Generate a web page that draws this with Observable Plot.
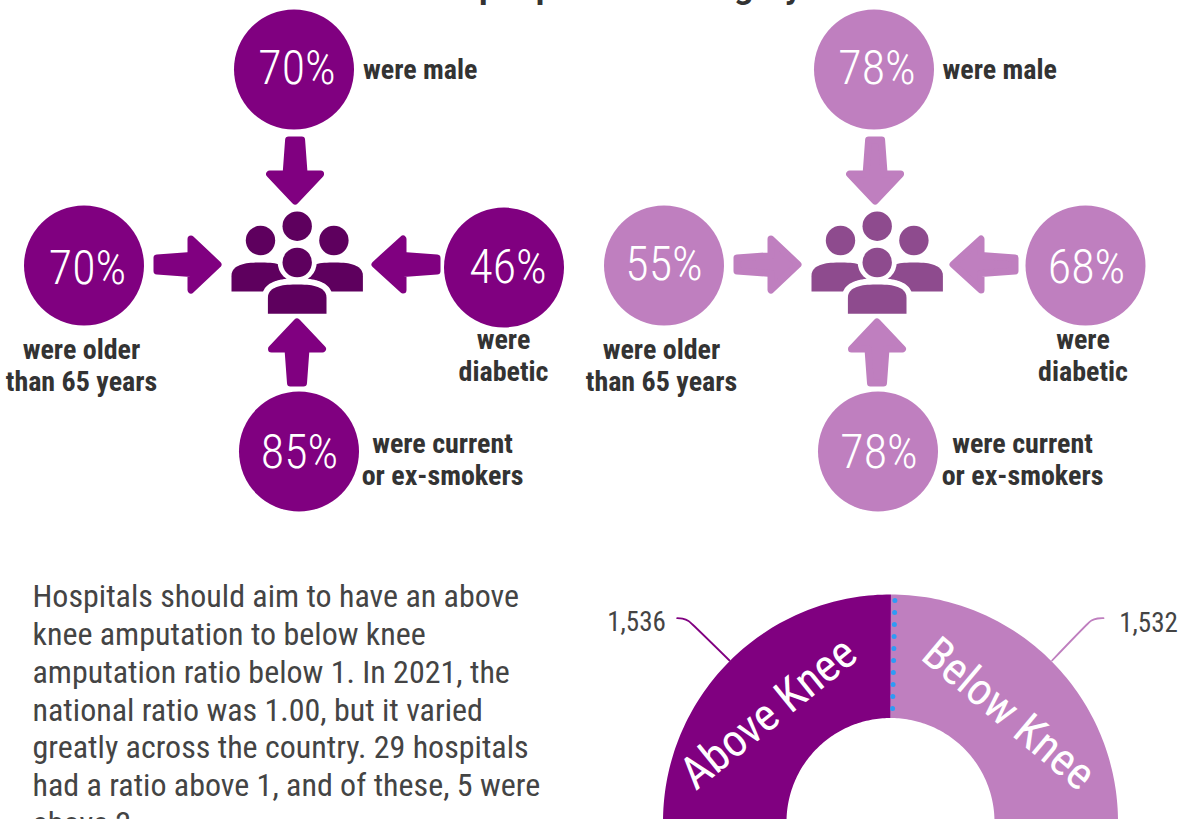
<!DOCTYPE html><html><head><meta charset="utf-8">
<script src="https://cdn.jsdelivr.net/npm/d3@7"></script>
<script src="https://cdn.jsdelivr.net/npm/@observablehq/plot@0.6"></script>
<style>html,body{margin:0;padding:0;background:#fff;overflow:hidden}svg{display:block}.clipped-title text{word-spacing:15px}</style></head><body><div id="c"></div>
<script>
// ---------- values ----------
const title = "These people had surgery";
const attributes = ["were male", "were older\nthan 65 years", "were\ndiabetic", "were current\nor ex-smokers"];
const percentAbove = [70, 70, 46, 85];
const percentBelow = [78, 55, 68, 78];
const sliceNames = ["Above Knee", "Below Knee"];
const sliceCounts = [1536, 1532];
const paragraph = "Hospitals should aim to have an above\nknee amputation to below knee\namputation ratio below 1. In 2021, the\nnational ratio was 1.00, but it varied\ngreatly across the country. 29 hospitals\nhad a ratio above 1, and of these, 5 were\nabove 2.";

// ---------- layout and palette (separate from the values) ----------
const dark = "#800080", light = "#bf7fbf", iconDark = "#5e005e", iconLight = "#8e4b8e", ink = "#333333", bodyInk = "#444444", dots = "#2e9bf5";
const groups = [
  {values: percentAbove, fill: dark, icon: iconDark,
   circles: [[293.5,69],[83.5,265],[503.5,267],[298.5,451]],
   pctX: [296.5,87,507.5,299], pctY: [68,268,267,452],
   labels: [[362.5,68,"start"],[81,364,"middle"],[503,354,"middle"],[442,458,"middle"]],
   arrows: [[294.6,136,294.6,205],[153,264,222,264],[440,264,370,264],[296.5,386,296.5,317]], icon0: 296.7},
  {values: percentBelow, fill: light, icon: iconLight,
   circles: [[873.5,69],[663.5,265],[1085,265],[877.5,451]],
   pctX: [876.5,663.5,1086,878.5], pctY: [68,264,267,452],
   labels: [[942,68,"start"],[661,364,"middle"],[1082.5,354,"middle"],[1022,458,"middle"]],
   arrows: [[874.6,136,874.6,205],[733,264,802,264],[1018,264,948,264],[876.5,386,876.5,317]], icon0: 876.7}
];
const donut = {cx: 890, cy: 821.5, outer: 227.5, inner: 104};

function arrowPoly([x0,y0,x1,y1], id) {
  const L = Math.hypot(x1-x0, y1-y0), ux = (x1-x0)/L, uy = (y1-y0)/L, vx = -uy, vy = ux;
  const shape = [[3.5,-6.5],[37.5,-9],[37.5,-25.5],[L-4.5,0],[37.5,25.5],[37.5,9],[3.5,6.5],[3.5,-6.5]];
  return shape.map(([s,t]) => ({id, x: x0+ux*s+vx*t, y: y0+uy*s+vy*t}));
}
function bodyPoly(cx, hw, top, shoulder, bottom, id) {
  const pts = [{id,x:cx-hw,y:bottom}];
  d3.range(0, 41).forEach(i => {
    const t = Math.PI - Math.PI*i/40, c = Math.cos(t), s = Math.sin(t);
    pts.push({id, x: cx + hw*Math.sign(c)*Math.pow(Math.abs(c),0.75), y: shoulder-(shoulder-top)*Math.pow(s,0.8)});
  });
  pts.push({id,x:cx+hw,y:bottom});
  return pts;
}
const pie = d3.pie().sort(null).startAngle(-Math.PI/2).endAngle(Math.PI/2)(sliceCounts);
function ringPoly(a) {
  const n = 80, out = [];
  d3.range(n+1).forEach(i => { const t = a.startAngle+(a.endAngle-a.startAngle)*i/n; out.push({x: donut.cx+donut.outer*Math.sin(t), y: donut.cy-donut.outer*Math.cos(t)}); });
  d3.range(n,-1,-1).forEach(i => { const t = a.startAngle+(a.endAngle-a.startAngle)*i/n; out.push({x: donut.cx+donut.inner*Math.sin(t), y: donut.cy-donut.inner*Math.cos(t)}); });
  return out;
}
const X = d => d.x, Y = d => d.y;
const marks = [];

// title, cut by the top edge of the page as in the reference
marks.push(Plot.text([title], {x: () => 581, y: () => -3, text: d => d, fontSize: 34, fontWeight: 700, fontFamily: "Roboto", fill: ink, lineAnchor: "bottom", textAnchor: "middle", className: "clipped-title"}));

groups.forEach(g => {
  const c = g.icon0;
  const pts = g.circles.map((p,i) => ({x:p[0], y:p[1], pct:g.values[i], px:g.pctX[i], py:g.pctY[i]}));
  marks.push(Plot.dot(pts, {x: X, y: Y, r: 60, fill: g.fill, stroke: "none"}));
  marks.push(Plot.text(pts, {x: d => d.px, y: d => d.py, text: d => d.pct + "%", fontSize: 48, fontWeight: 300, fill: "#fff", lineAnchor: "middle"}));
  g.labels.forEach((l,i) => marks.push(Plot.text([attributes[i]], {x: () => l[0], y: () => l[1], text: d => d, textAnchor: l[2], lineAnchor: "middle", fontSize: 28, fontWeight: 700, fill: ink, lineHeight: 1.145})));
  // people icon
  const back = [...bodyPoly(c-36.7,29,262,276,291,"l"), ...bodyPoly(c+36.7,29,262,276,291,"r")];
  marks.push(Plot.line(back, {x: X, y: Y, z: "id", fill: g.icon, stroke: "none"}));
  marks.push(Plot.dot([{x:c,y:225.7},{x:c-36.7,y:240},{x:c+36.7,y:240}], {x: X, y: Y, r: 14.7, fill: g.icon, stroke: "none"}));
  const front = bodyPoly(c,29.3,284,298,313.3,"f");
  marks.push(Plot.line(front, {x: X, y: Y, fill: "#fff", stroke: "#fff", strokeWidth: 12, strokeLinejoin: "round"}));
  marks.push(Plot.line(front, {x: X, y: Y, fill: g.icon, stroke: "none"}));
  marks.push(Plot.dot([{x:c,y:262}], {x: X, y: Y, r: 19.5, fill: "#fff", stroke: "none"}));
  marks.push(Plot.dot([{x:c,y:262}], {x: X, y: Y, r: 14.7, fill: g.icon, stroke: "none"}));
  // arrows
  const arrows = g.arrows.flatMap((a,i) => arrowPoly(a,i));
  marks.push(Plot.line(arrows, {x: X, y: Y, z: "id", fill: g.fill, stroke: g.fill, strokeWidth: 7, strokeLinejoin: "round"}));
});

// paragraph
marks.push(Plot.text([paragraph], {x: () => 32, y: () => 580, text: d => d, textAnchor: "start", lineAnchor: "top", fontSize: 32, fontWeight: 400, fill: bodyInk, lineHeight: 1.18}));

// half donut
[dark, light].forEach((col,i) => marks.push(Plot.line(ringPoly(pie[i]), {x: X, y: Y, fill: col, stroke: "none"})));
marks.push(Plot.line([{x:894.4,y:600},{x:892,y:712}], {x: X, y: Y, stroke: dots, strokeWidth: 5, strokeLinecap: "round", strokeDasharray: "0 12"}));
const rots = [-39, 40], mids = [[768,713],[1008,713.5]];
sliceNames.forEach((n,i) => marks.push(Plot.text([n], {x: () => mids[i][0], y: () => mids[i][1], text: d => d, rotate: rots[i], fontSize: 45.5, fontWeight: 400, fill: "#fff", lineAnchor: "middle"})));
const leaders = [
  [[676.7,617.7],[682,618.2],[688,620.5],[692,624],[729,660]],
  [[1103,617.7],[1097,618],[1091,620],[1087,623.5],[1051.6,660]]
];
leaders.forEach((pts,i) => marks.push(Plot.line(pts.map(p => ({x:p[0],y:p[1]})), {x: X, y: Y, stroke: [dark,light][i], strokeWidth: 1.8, curve: "catmull-rom"})));
const countPos = [[636,622],[1148,623]];
sliceCounts.forEach((v,i) => marks.push(Plot.text([v], {x: () => countPos[i][0], y: () => countPos[i][1], text: d => d3.format(",")(d), fontSize: 27, fontWeight: 400, fill: bodyInk, lineAnchor: "middle"})));

const chart = Plot.plot({width: 1179, height: 819, margin: 0,
  x: {type: "identity"}, y: {type: "identity"}, axis: null,
  style: {fontFamily: "'Roboto Condensed'", background: "#fff", overflow: "hidden"}, marks});
document.getElementById("c").append(chart);
</script></body></html>
